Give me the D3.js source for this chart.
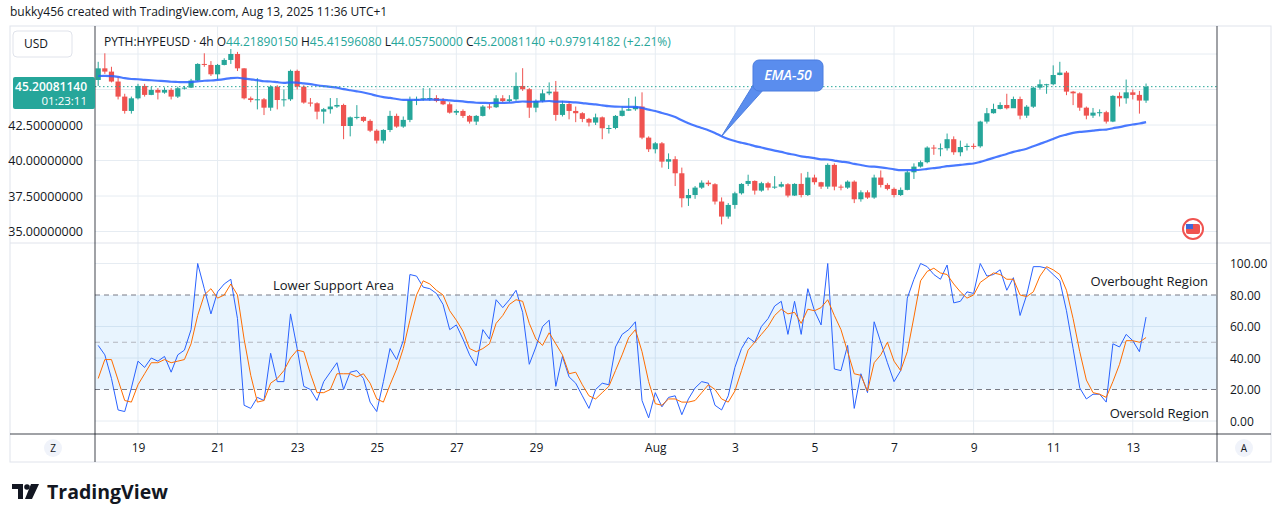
<!DOCTYPE html>
<html>
<head>
<meta charset="utf-8">
<script src="https://cdn.jsdelivr.net/npm/d3@7/dist/d3.min.js"></script>
<style>
  body { margin: 0; background: #fff; font-family: "Open Sans", "Noto Sans", sans-serif; }
  svg text { font-family: "Open Sans", "Noto Sans", sans-serif; }
</style>
</head>
<body>
<svg id="chart" width="1281" height="522"></svg>
<script>
// 4h candles, Jul 18 00:00 -> Aug 13 08:00 (index 0..158)
const closes = [46.49,46.26,45.56,44.5,43.49,44.38,45.25,44.62,44.97,44.78,44.97,44.5,45.09,45.13,45.63,46.8,46.73,46.07,46.73,47.08,
  47.5,46.49,44.38,44.26,44.31,43.72,45.2,44.26,44.31,46.31,45.2,44.08,44.03,43.44,43.61,43.8,43.91,42.43,43.04,43.07,
  42.79,42.1,41.4,42.15,43.14,42.39,42.86,44.26,44.31,44.38,44.4,44.19,43.96,43.37,43.49,43.14,42.74,43.14,43.8,43.75,
  44.38,44.19,44.31,45.25,45.02,43.72,44.19,44.73,44.85,43.21,43.98,43.49,43.33,42.93,42.67,43.04,42.27,42.29,43.14,43.51,
  43.61,43.8,41.61,40.79,41.21,39.92,40.09,39.1,37.34,37.57,38.09,38.44,38.33,37.11,36.05,36.87,37.69,38.35,38.56,37.88,
  38.4,38.09,38.16,38.33,37.53,38.35,37.57,38.8,38.47,38.16,39.69,38.16,38.09,38.51,37.27,37.76,37.39,38.8,38.28,38.0,
  37.57,37.93,39.17,39.57,39.88,40.91,40.86,40.86,41.5,40.58,40.95,41.03,41.0,42.74,43.33,43.63,43.91,43.68,44.33,43.16,
  43.79,45.13,45.37,45.37,46.02,46.19,44.85,44.73,43.72,43.16,43.37,43.4,42.74,44.55,44.38,44.8,44.62,44.22,45.2];
const firstOpen = 45.67;
const highs = [46.95,47.55,46.6,45.85,44.7,44.5,45.4,45.4,45.2,45.1,45.15,45.1,45.2,45.25,45.75,46.85,47.55,47.0,46.8,47.2,
  47.85,47.65,46.5,44.5,45.8,44.4,45.3,45.3,45.0,46.4,46.4,45.3,44.4,44.1,43.7,44.4,44.4,44.0,43.1,43.9,
  43.1,42.9,42.2,42.2,43.5,43.3,43.1,44.5,44.5,45.1,45.1,44.6,44.4,44.1,43.6,43.6,43.2,43.2,43.9,44.0,
  44.6,44.6,44.6,46.2,46.5,45.1,44.3,45.0,45.5,45.6,44.2,44.2,43.8,43.4,43.0,43.3,43.1,42.5,43.2,43.8,
  44.4,44.5,44.8,41.7,41.3,41.3,40.5,40.3,39.5,38.0,38.2,38.6,38.6,38.4,37.4,37.0,37.8,38.4,39.0,38.6,
  38.5,38.5,38.9,38.5,38.4,38.4,39.1,39.2,39.0,38.5,39.8,39.8,38.3,38.6,38.6,37.9,37.9,39.0,39.3,38.4,
  38.1,38.1,39.3,39.8,40.0,41.0,41.1,41.2,41.9,41.7,41.4,41.2,41.2,42.8,43.7,44.0,44.1,44.7,44.5,44.5,
  43.9,45.2,45.7,45.4,46.7,46.95,46.3,44.9,44.8,43.8,43.7,43.6,43.5,44.6,44.8,45.7,45.0,44.9,45.42];
const lows = [45.25,46.1,45.5,44.3,43.3,43.3,44.3,44.5,44.6,44.3,44.7,44.3,44.4,45.0,45.1,45.6,46.6,45.95,45.7,46.7,
  46.8,46.3,44.3,44.1,43.6,43.2,43.5,43.6,43.8,44.2,45.0,44.0,43.8,42.9,42.6,43.3,43.7,41.5,41.7,42.9,
  42.7,42.0,41.2,41.2,42.0,42.3,42.3,42.7,43.9,44.2,44.2,44.1,43.9,43.3,43.2,43.0,42.6,42.5,43.1,43.6,
  43.7,44.1,44.1,44.2,44.9,43.0,43.4,44.1,44.6,42.8,43.1,42.9,42.7,42.7,42.4,42.5,41.5,41.9,42.2,43.1,
  43.5,43.5,41.5,40.6,40.5,39.5,39.4,38.2,36.7,36.8,37.3,38.0,38.2,36.9,35.5,35.9,36.6,37.6,38.2,37.6,
  37.8,37.9,38.0,38.1,37.4,37.5,37.4,37.5,38.3,38.0,38.0,37.9,37.9,38.0,37.0,37.1,37.3,37.3,38.1,37.9,
  37.4,37.5,37.9,38.7,39.5,39.8,40.4,40.3,40.7,40.4,40.3,40.7,40.8,40.9,42.6,43.3,43.6,43.6,44.2,42.9,
  43.0,43.7,45.0,44.7,45.3,46.0,44.6,43.9,43.5,42.9,43.0,43.1,42.6,42.7,43.8,44.0,44.3,43.3,44.06];
// Stoch RSI lines
const stochK = [48,42,27,7,6,21,38,34,40,38,41,31,42,45,58,100,84,68,82,87,
  90,65,10,8,15,13,43,25,25,68,46,22,20,13,25,31,37,20,31,32,
  27,12,6,25,46,39,51,93,92,85,84,81,74,58,61,52,42,35,58,52,
  77,72,77,83,69,36,47,60,64,22,41,28,24,16,8,20,24,23,47,55,
  58,63,13,2,18,9,15,16,4,14,21,25,24,10,7,16,34,46,53,50,
  60,65,73,76,55,76,55,84,70,61,100,33,32,48,8,30,18,63,50,37,
  25,32,78,90,100,98,93,90,99,75,76,82,81,100,92,93,96,83,91,67,
  80,98,98,97,93,89,70,46,21,14,17,17,12,49,47,55,51,44,66];
const stochD = [27,39,39,26,13,12,23,30,37,37,39,37,38,39,49,67,80,84,78,80,
  87,80,52,29,12,13,24,27,32,40,45,44,30,18,18,20,30,30,30,28,
  30,24,14,12,23,33,46,64,80,89,87,83,80,70,64,57,46,44,46,49,
  62,67,74,77,76,62,52,48,56,49,42,30,31,23,16,14,18,22,32,42,
  53,58,44,25,11,10,14,14,12,12,13,18,23,20,14,12,19,32,45,50,
  55,60,67,71,68,69,62,71,70,72,77,67,58,44,30,29,19,37,42,50,
  38,32,44,66,89,95,97,94,93,87,82,78,80,88,91,94,93,90,90,80,
  79,82,92,98,96,93,83,65,44,26,18,17,15,25,36,51,51,50,53];
const dayTicks = [19,21,23,25,27,29,'Aug',3,5,7,9,11,13];
const dayTickIndex = [6,18,30,42,54,66,84,96,108,120,132,144,156];
const priceTicks = [35, 37.5, 40, 42.5, 45, 47.5];
const oscTicks = [0, 20, 40, 60, 80, 100];

const UP = '#26a69a', DOWN = '#ef5350', GRID = '#e6ecf2', AXIS = '#131722';
const svg = d3.select('#chart');

// layout
const L = 95, R = 1217, T = 26, PB = 243, OB = 434, XB = 462;

// frame
svg.append('rect').attr('x', 10).attr('y', T).attr('width', 1261).attr('height', XB - T)
  .attr('fill', '#fff').attr('stroke', '#e0e3eb');

const x = d3.scaleLinear().domain([0, 1]).range([98.2, 98.2 + 6.632]);
const y = d3.scaleLinear().domain([42.5, 40]).range([125, 160.5]);
const yo = d3.scaleLinear().domain([0, 100]).range([421, 263.5]);

const plot = svg.append('g');
plot.append('clipPath').attr('id', 'pc').append('rect').attr('x', L).attr('y', T).attr('width', R - L).attr('height', PB - T);

// grid
dayTickIndex.forEach(i => {
  plot.append('line').attr('x1', x(i)).attr('x2', x(i)).attr('y1', T).attr('y2', OB).attr('stroke', GRID);
});
priceTicks.forEach(p => {
  plot.append('line').attr('x1', L).attr('x2', R).attr('y1', y(p)).attr('y2', y(p)).attr('stroke', GRID);
});
[0, 40, 60, 100].forEach(v => {
  plot.append('line').attr('x1', L).attr('x2', R).attr('y1', yo(v)).attr('y2', yo(v)).attr('stroke', GRID);
});

// candles
const opens = closes.map((c, i) => i === 0 ? firstOpen : closes[i - 1]);
const cg = plot.append('g').attr('clip-path', 'url(#pc)');
closes.forEach((c, i) => {
  const o = opens[i];
  const col = c >= o ? UP : DOWN;
  const cx = x(i);
  cg.append('line').attr('x1', cx).attr('x2', cx).attr('y1', y(highs[i])).attr('y2', y(lows[i]))
    .attr('stroke', col).attr('stroke-width', 1);
  const top = y(Math.max(o, c)), bot = y(Math.min(o, c));
  cg.append('rect').attr('x', cx - 2.6).attr('width', 5.2).attr('y', top).attr('height', Math.max(1, bot - top))
    .attr('fill', col);
});

// EMA 50
const k = 2 / 51;
const ema = [];
closes.forEach((c, i) => ema.push(i === 0 ? 45.95 : ema[i - 1] + k * (c - ema[i - 1])));
cg.append('path').datum(ema)
  .attr('d', d3.line().x((d, i) => x(i)).y(d => y(d)).curve(d3.curveMonotoneX))
  .attr('fill', 'none').attr('stroke', '#2962ff').attr('stroke-width', 2.2).attr('opacity', 0.85);

// last price line
const last = closes[closes.length - 1];
plot.append('line').attr('x1', L).attr('x2', R).attr('y1', y(last)).attr('y2', y(last))
  .attr('stroke', UP).attr('stroke-dasharray', '1.5,2.5');

// EMA callout
const tipI = 94;
const tip = [x(tipI), y(ema[tipI])];
const co = svg.append('g');
co.append('path').attr('d', `M${tip[0]},${tip[1]} L755,82 L765,88 Z`).attr('fill', '#5a8dee').attr('stroke', '#4a7de0');
co.append('rect').attr('x', 753).attr('y', 60).attr('width', 70).attr('height', 31).attr('rx', 6)
  .attr('fill', '#5a8dee').attr('stroke', '#4a7de0');
co.append('text').attr('x', 788).attr('y', 80).attr('text-anchor', 'middle').attr('fill', '#fff')
  .attr('font-size', 14).attr('font-style', 'italic').attr('font-weight', 600).text('EMA-50');

// flag badge
const fb = svg.append('g').attr('transform', 'translate(1193,229)');
fb.append('circle').attr('r', 10).attr('fill', '#fff').attr('stroke', '#f05350').attr('stroke-width', 2);
fb.append('rect').attr('x', -7).attr('y', -5).attr('width', 14).attr('height', 10).attr('fill', '#ef5350').attr('rx', 2);
fb.append('rect').attr('x', -7).attr('y', -5).attr('width', 7).attr('height', 5).attr('fill', '#3f68d8');

// oscillator pane
svg.append('line').attr('x1', 10).attr('x2', 1271).attr('y1', PB).attr('y2', PB).attr('stroke', '#e0e3eb');
plot.append('rect').attr('x', L).attr('y', yo(80)).attr('width', R - L).attr('height', yo(20) - yo(80))
  .attr('fill', '#2196f3').attr('opacity', 0.1);
[[80, '5,4', '#787b86'], [50, '5,4', '#b2b5be'], [20, '5,4', '#787b86']].forEach(([v, d, c]) => {
  plot.append('line').attr('x1', L).attr('x2', R).attr('y1', yo(v)).attr('y2', yo(v))
    .attr('stroke', c).attr('stroke-dasharray', d);
});
const oline = d3.line().x((d, i) => x(i)).y(d => yo(d));
plot.append('path').datum(stochK).attr('d', oline).attr('fill', 'none').attr('stroke', '#2962ff').attr('stroke-width', 1);
plot.append('path').datum(stochD).attr('d', oline).attr('fill', 'none').attr('stroke', '#ff6d00').attr('stroke-width', 1);

const lab = (t, xx, yy, a) => svg.append('text').attr('x', xx).attr('y', yy).attr('text-anchor', a || 'start')
  .attr('font-size', 13).attr('fill', '#131722').text(t);
lab('Lower Support Area', 273, 290);
lab('Overbought Region', 1208, 286, 'end');
lab('Oversold Region', 1209, 418, 'end');

// axes lines
svg.append('line').attr('x1', L).attr('x2', L).attr('y1', T).attr('y2', XB).attr('stroke', AXIS).attr('stroke-opacity', 0.8);
svg.append('line').attr('x1', R).attr('x2', R).attr('y1', T).attr('y2', XB).attr('stroke', AXIS).attr('stroke-opacity', 0.8);
svg.append('line').attr('x1', 10).attr('x2', 1271).attr('y1', OB).attr('y2', OB).attr('stroke', AXIS).attr('stroke-opacity', 0.8);

// left price axis
svg.append('g').attr('transform', `translate(${L - 9},0)`)
  .call(d3.axisLeft(y).tickValues(priceTicks.filter(p => p < 45)).tickSize(0).tickFormat(d3.format('.8f')))
  .call(g => g.select('.domain').remove())
  .call(g => g.selectAll('text').attr('font-size', 12.5).attr('fill', '#131722').attr('dy', '0.35em'));

// right osc axis
svg.append('g').attr('transform', `translate(${R + 10},0)`)
  .call(d3.axisRight(yo).tickValues(oscTicks).tickSize(0).tickFormat(d3.format('.2f')))
  .call(g => g.select('.domain').remove())
  .call(g => g.selectAll('text').attr('font-size', 12).attr('fill', '#131722').attr('dy', '0.35em'));

// time axis
svg.append('g').attr('transform', `translate(0,${OB})`)
  .call(d3.axisBottom(x).tickValues(dayTickIndex).tickSize(0).tickPadding(9)
    .tickFormat((d, i) => dayTicks[i]))
  .call(g => g.select('.domain').remove())
  .call(g => g.selectAll('text').attr('font-size', 12).attr('fill', '#131722'));

// current price label
svg.append('rect').attr('x', 13).attr('y', 77).attr('width', 82).attr('height', 32).attr('fill', UP).attr('rx', 2);
svg.append('text').attr('x', 87).attr('y', 91).attr('text-anchor', 'end').attr('fill', '#fff')
  .attr('font-size', 12).attr('font-weight', 600).text('45.20081140');
svg.append('text').attr('x', 87).attr('y', 105).attr('text-anchor', 'end').attr('fill', '#fff')
  .attr('font-size', 11.5).text('01:23:11');

// USD box
svg.append('rect').attr('x', 13).attr('y', 31).attr('width', 59).attr('height', 26).attr('rx', 4)
  .attr('fill', '#fff').attr('stroke', '#e0e3eb');
svg.append('text').attr('x', 24).attr('y', 48).attr('font-size', 12).attr('fill', '#131722').text('USD');

// Z / A buttons
[[53, 'Z'], [1244, 'A']].forEach(([cx, t]) => {
  svg.append('circle').attr('cx', cx).attr('cy', 448).attr('r', 9).attr('fill', '#f0f3fa');
  svg.append('text').attr('x', cx).attr('y', 452).attr('text-anchor', 'middle').attr('font-size', 10)
    .attr('fill', '#131722').text(t);
});

// header legend
const hdr = svg.append('text').attr('x', 104).attr('y', 46).attr('font-size', 12);
hdr.append('tspan').attr('fill', '#131722').text('PYTH:HYPEUSD · 4h  ');
[['O', '44.21890150'], ['H', '45.41596080'], ['L', '44.05750000'], ['C', '45.20081140']].forEach(([a, b]) => {
  hdr.append('tspan').attr('fill', '#131722').text(a);
  hdr.append('tspan').attr('fill', UP).text(b + '  ');
});
hdr.append('tspan').attr('fill', UP).text('+0.97914182 (+2.21%)');

// top credit
svg.append('text').attr('x', 10).attr('y', 16).attr('font-size', 12).attr('fill', '#131722')
  .text('bukky456 created with TradingView.com, Aug 13, 2025 11:36 UTC+1');

// logo
const lg = svg.append('g').attr('transform', 'translate(12,484)');
lg.append('path').attr('d', 'M0,0 H11 V15 H6 V5 H0 Z').attr('fill', '#131722');
lg.append('circle').attr('cx', 15).attr('cy', 3).attr('r', 2.8).attr('fill', '#131722');
lg.append('path').attr('d', 'M19,0 H27 L20,15 H13 Z').attr('fill', '#131722');
svg.append('text').attr('x', 47).attr('y', 499).attr('font-size', 19.5).attr('font-weight', 700)
  .attr('fill', '#131722').attr('font-family', 'Inter, sans-serif').text('TradingView');
</script>
</body>
</html>
